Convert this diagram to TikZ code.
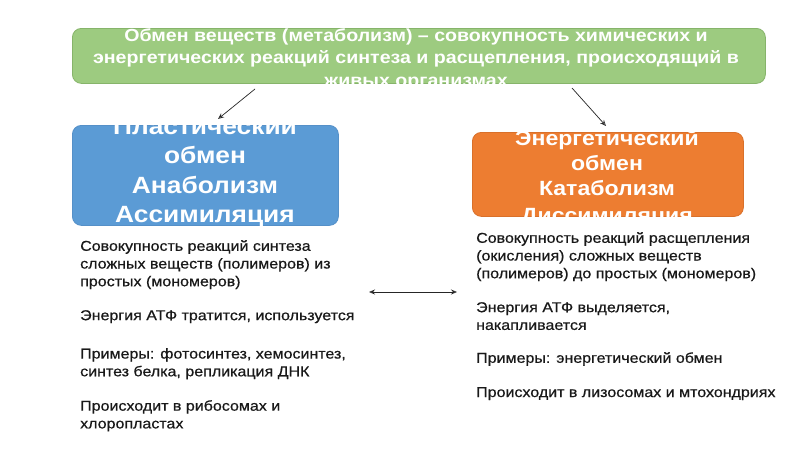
\documentclass[tikz,border=0pt]{standalone}
\usepackage{fontspec}
\setmainfont{Liberation Sans}[FakeStretch=1.12]
\newfontfamily\bodyfont{Liberation Sans}[FakeStretch=1.12,FakeBold=0.6]
\usetikzlibrary{arrows.meta}
\definecolor{grnfill}{HTML}{9DCB80}
\definecolor{grnline}{HTML}{86B46A}
\definecolor{bluefill}{HTML}{5B9BD5}
\definecolor{blueline}{HTML}{5590C8}
\definecolor{orgfill}{HTML}{ED7D31}
\definecolor{orgline}{HTML}{D9702A}
\tikzset{
  boxbase/.style={rounded corners=9pt, line width=0.8pt, inner sep=0pt, anchor=north west},
  greenbox/.style={boxbase, fill=grnfill, draw=grnline},
  bluebox/.style={boxbase, fill=bluefill, draw=blueline},
  orgbox/.style={boxbase, fill=orgfill, draw=orgline},
  titleline/.style={text=white, font=\bfseries\fontsize{17.5}{20}\selectfont, anchor=base, inner sep=0pt},
  bluetext/.style={text=white, font=\bfseries\fontsize{23.5}{26}\selectfont, anchor=base, inner sep=0pt},
  orgtext/.style={text=white, font=\bfseries\fontsize{20.6}{23}\selectfont, anchor=base, inner sep=0pt},
  para/.style={text=black!90, font=\bodyfont\fontsize{14.3}{17.7}\selectfont, anchor=north west, align=left, inner sep=0pt},
  conn/.style={draw=black!85, line width=0.7pt, -{Stealth[open,length=6pt,width=5pt]}},
  dconn/.style={draw=black!85, line width=0.8pt, {Stealth[open,length=6pt,width=5pt]}-{Stealth[open,length=6pt,width=5pt]}}
}
\begin{document}
\begin{tikzpicture}[x=1pt,y=-1pt]
\fill[white] (0,0) rectangle (800,450);
\useasboundingbox (0,0) rectangle (800,450);

% top green box with clipped text
\node[greenbox, minimum width=693pt, minimum height=55pt] (top) at (72,28) {};
\begin{scope}
  \clip[rounded corners=9pt] (72,28) rectangle (765,83);
  \node[titleline] (t1) at (416,41) {Обмен веществ (метаболизм) – совокупность химических и};
  \node[titleline] (t2) at (416,63) {энергетических реакций синтеза и расщепления, происходящий в};
  \node[titleline] (t3) at (416,86) {живых организмах};
\end{scope}

% blue box
\node[bluebox, minimum width=266pt, minimum height=100pt] (ana) at (72,125) {};
\begin{scope}
  \clip[rounded corners=9pt] (72,125) rectangle (338,225);
  \node[bluetext] (b1) at (205,134) {Пластический};
  \node[bluetext] (b2) at (205,163) {обмен};
  \node[bluetext] (b3) at (205,193) {Анаболизм};
  \node[bluetext] (b4) at (205,222) {Ассимиляция};
\end{scope}

% orange box
\node[orgbox, minimum width=271pt, minimum height=84pt] (kat) at (472,132) {};
\begin{scope}
  \clip[rounded corners=9pt] (472,132) rectangle (743,216);
  \node[orgtext] (o1) at (607,145) {Энергетический};
  \node[orgtext] (o2) at (607,170) {обмен};
  \node[orgtext] (o3) at (607,195) {Катаболизм};
  \node[orgtext] (o4) at (607,222) {Диссимиляция};
\end{scope}

% arrows from title
\coordinate (la) at (255,89);
\coordinate (lb) at (218,119);
\coordinate (ra) at (572,88);
\coordinate (rb) at (606,126);
\draw[conn] (la) -- (lb);
\draw[conn] (ra) -- (rb);

% left paragraphs
\node[para] (l1) at (80,240) {Совокупность реакций синтеза\\сложных веществ (полимеров) из\\простых (мономеров)};
\node[para] (l2) at (80,310) {Энергия АТФ тратится, используется};
\node[para] (l3) at (80,348) {Примеры: фотосинтез, хемосинтез,\\синтез белка, репликация ДНК};
\node[para] (l4) at (80,400) {Происходит в рибосомах и\\хлоропластах};

% right paragraphs
\node[para] (r1) at (476,232) {Совокупность реакций расщепления\\(окисления) сложных веществ\\(полимеров) до простых (мономеров)};
\node[para] (r2) at (476,302) {Энергия АТФ выделяется,\\накапливается};
\node[para] (r3) at (476,352) {Примеры: энергетический обмен};
\node[para] (r4) at (476,387) {Происходит в лизосомах и мтохондриях};

% double arrow
\coordinate (da) at (369,292);
\coordinate (db) at (457,292);
\draw[dconn] (da) -- (db);
\end{tikzpicture}
\end{document}
